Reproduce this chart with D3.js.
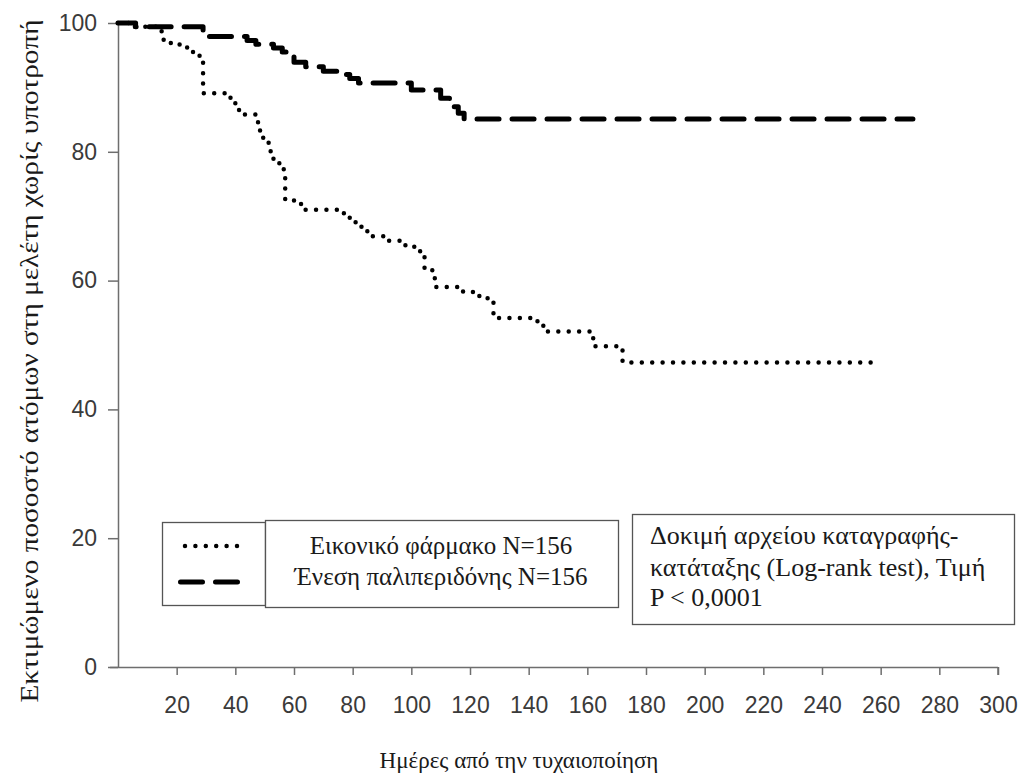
<!DOCTYPE html>
<html>
<head>
<meta charset="utf-8">
<script src="https://cdn.jsdelivr.net/npm/d3@7"></script>
<style>
  body { margin: 0; background: #fff; }
  .tick text { font-family: "Liberation Sans", Arial, sans-serif; fill: #3a3a3a; }
  .serif { font-family: "Liberation Serif", "Times New Roman", serif; fill: #1a1a1a; }
</style>
</head>
<body>
<svg id="chart"></svg>
<script>
// Kaplan-Meier steps (day, % without relapse)
const placeboDays = [0, 5, 13, 15, 18, 21, 24, 27, 29, 38, 40, 41, 43, 47, 48, 49.5, 50, 52, 53, 55, 56.5, 57, 60, 63, 77, 79, 81, 83, 85, 91, 96, 101, 103, 104.5, 108, 116, 121, 126, 128, 143, 145, 162, 172, 260];
const placeboSurv = [100, 99.4, 98.7, 97.4, 96.8, 96.2, 95.5, 94.9, 89.1, 88.4, 87.2, 86.5, 85.8, 84.6, 83.3, 82.0, 81.4, 80.1, 78.8, 77.6, 76.9, 72.6, 71.9, 71.0, 70.3, 69.6, 69.0, 68.3, 66.9, 66.2, 65.5, 64.8, 63.9, 61.6, 59.0, 58.3, 57.6, 56.7, 54.2, 53.0, 52.1, 49.8, 47.3, 47.3];

const paliDays = [0, 6, 29, 44, 47, 53, 56, 59, 60, 64, 70, 75, 79, 82, 100, 110, 113, 116, 118, 271];
const paliSurv = [100, 99.4, 97.9, 97.3, 96.7, 96.1, 95.5, 94.8, 93.9, 93.2, 92.5, 92.0, 91.4, 90.7, 89.6, 88.3, 87.0, 86.0, 85.1, 85.1];

const xTicks = [20, 40, 60, 80, 100, 120, 140, 160, 180, 200, 220, 240, 260, 280, 300];
const yTicks = [0, 20, 40, 60, 80, 100];

const seriesNames = ["Εικονικό φάρμακο N=156", "Ένεση παλιπεριδόνης N=156"];
const statLines = ["Δοκιμή αρχείου καταγραφής-", "κατάταξης (Log-rank test), Τιμή", "P < 0,0001"];
const xTitle = "Ημέρες από την τυχαιοποίηση";
const yTitle = "Εκτιμώμενο ποσοστό ατόμων στη μελέτη χωρίς υποτροπή";

const width = 1019, height = 776;
const svg = d3.select("#chart").attr("width", width).attr("height", height);
svg.append("rect").attr("width", width).attr("height", height).attr("fill", "#fff");

const x = d3.scaleLinear().domain([0, 300]).range([118, 998]);
const y = d3.scaleLinear().domain([0, 100]).range([667, 23]);
const axisColor = "#6e6e6e";

// x axis
const gx = svg.append("g")
  .attr("transform", "translate(0," + y(0) + ")")
  .call(d3.axisBottom(x).tickValues(xTicks).tickSize(8).tickSizeOuter(0).tickPadding(22));
gx.select(".domain").attr("d", "M110,0.5H" + x(300)).attr("stroke", axisColor).attr("stroke-width", 1.5);
gx.selectAll(".tick line").attr("stroke", axisColor).attr("stroke-width", 1.5);
gx.selectAll(".tick text").attr("font-size", 23);
// closing tick at the end of the axis
gx.append("line").attr("x1", x(300)).attr("x2", x(300)).attr("y1", 0).attr("y2", 8)
  .attr("stroke", axisColor).attr("stroke-width", 1.5);

// y axis
const gy = svg.append("g")
  .attr("transform", "translate(" + x(0) + ",0)")
  .call(d3.axisLeft(y).tickValues(yTicks).tickSize(10).tickSizeOuter(0).tickPadding(11));
gy.select(".domain").attr("stroke", axisColor).attr("stroke-width", 1.5);
gy.selectAll(".tick line").attr("stroke", axisColor).attr("stroke-width", 1.5);
gy.selectAll(".tick text").attr("font-size", 23);

// axis titles
svg.append("text").attr("class", "serif")
  .attr("x", 519).attr("y", 768).attr("text-anchor", "middle")
  .attr("font-size", 23).text(xTitle);
// the original title is stretched along its length
svg.append("text").attr("class", "serif")
  .attr("transform", "translate(38,361) rotate(-90) scale(1.17,1)").attr("text-anchor", "middle")
  .attr("font-size", 25).text(yTitle);

// curves
const line = d3.line().x(d => x(d[0])).y(d => y(d[1])).curve(d3.curveStepAfter);
const placebo = placeboDays.map((d, i) => [d, placeboSurv[i]]);
const pali = paliDays.map((d, i) => [d, paliSurv[i]]);

const dotted = { stroke: "#000", width: 4.5, dash: "0,10.4", cap: "round" };
const dashed = { stroke: "#000", width: 5, dash: "22,13", cap: "round" };

function styled(sel, s) {
  return sel.attr("fill", "none").attr("stroke", s.stroke).attr("stroke-width", s.width)
    .attr("stroke-dasharray", s.dash).attr("stroke-linecap", s.cap).attr("stroke-linejoin", "round");
}

styled(svg.append("path").datum(pali).attr("d", line), dashed);
styled(svg.append("path").datum(placebo).attr("d", line), dotted);

// legend
const boxStroke = "#555";
svg.append("rect").attr("x", 162.5).attr("y", 522.5).attr("width", 103).attr("height", 83)
  .attr("fill", "#fff").attr("stroke", boxStroke).attr("stroke-width", 1.3);
svg.append("rect").attr("x", 265.5).attr("y", 520.5).attr("width", 353).attr("height", 87)
  .attr("fill", "#fff").attr("stroke", boxStroke).attr("stroke-width", 1.3);
styled(svg.append("line").attr("x1", 185).attr("x2", 238).attr("y1", 546).attr("y2", 546), dotted);
styled(svg.append("line").attr("x1", 180.5).attr("x2", 240).attr("y1", 582).attr("y2", 582), dashed);
svg.selectAll(".legtext").data(seriesNames).enter().append("text")
  .attr("class", "serif").attr("x", 441).attr("y", (d, i) => 554 + i * 31)
  .attr("text-anchor", "middle").attr("font-size", 25).text(d => d);

// log-rank box
svg.append("rect").attr("x", 632.5).attr("y", 514.5).attr("width", 382).attr("height", 110)
  .attr("fill", "#fff").attr("stroke", boxStroke).attr("stroke-width", 1.3);
svg.selectAll(".stat").data(statLines).enter().append("text")
  .attr("class", "serif").attr("x", 650).attr("y", (d, i) => [544, 576, 606][i])
  .attr("font-size", 26).text(d => d);
</script>
</body>
</html>
